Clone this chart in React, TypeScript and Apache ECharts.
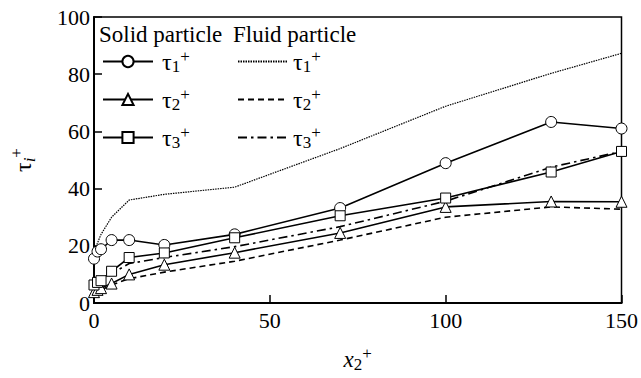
import React, { useEffect, useRef } from "react";
import * as echarts from "echarts";

const xValues = [0, 1, 2, 5, 10, 20, 40, 70, 100, 130, 150];
const solidTau1 = [15.5, 18, 18.8, 22, 22, 20.3, 24, 33.2, 48.9, 63.3, 61];
const solidTau2 = [3.8, 4.6, 5.2, 6.8, 10, 13.4, 17.6, 24.5, 33.6, 35.5, 35.4];
const solidTau3 = [6.3, 7.2, 7.8, 11.1, 15.9, 17.5, 22.8, 30.5, 36.7, 45.8, 53];
const fluidTau1 = [18, 21, 24, 30, 36, 38, 40.5, 54, 68.8, 80.3, 87.3];
const fluidTau2 = [3, 3.8, 4.6, 6.3, 8.5, 10.8, 14.6, 22, 30, 33.6, 32.8];
const fluidTau3 = [5, 6.2, 7.4, 10.3, 13.8, 15.9, 19.7, 26.7, 35.6, 47.5, 53];

const xTicks = [0, 50, 100, 150];
const yTicks = [0, 20, 40, 60, 80, 100];

const FONT = "Liberation Serif";

const pair = (ys: number[]) => xValues.map((x, i) => [x, ys[i]]);

const legendLabel: Record<string, string> = {
  s1: "{t|τ}{b|1}{p|+}",
  s2: "{t|τ}{b|2}{p|+}",
  s3: "{t|τ}{b|3}{p|+}",
  f1: "{t|τ}{b|1}{p|+}",
  f2: "{t|τ}{b|2}{p|+}",
  f3: "{t|τ}{b|3}{p|+}",
};

const richTau = {
  t: { fontSize: 24, fontFamily: FONT, color: "#000", lineHeight: 27, verticalAlign: "middle" },
  b: { fontSize: 17, fontFamily: FONT, color: "#000", lineHeight: 15, verticalAlign: "bottom" },
  p: { fontSize: 17, fontFamily: FONT, color: "#000", lineHeight: 15, verticalAlign: "top" },
};

export default function App() {
  const ref = useRef<HTMLDivElement>(null);
  useEffect(() => {
    if (!ref.current) return;
    const chart = echarts.init(ref.current, undefined, { renderer: "svg" });
    const solidCommon = {
      type: "line",
      symbolSize: 11,
      itemStyle: { color: "#fff", borderColor: "#000", borderWidth: 1 },
      lineStyle: { color: "#000", width: 1.6 },
      z: 3,
    };
    const fluidCommon = {
      type: "line",
      symbol: "none",
      itemStyle: { color: "rgba(0,0,0,0)" },
      z: 2,
    };
    const legendBase = {
      orient: "vertical",
      top: 48,
      itemWidth: 50,
      itemHeight: 14,
      itemGap: 11,
      padding: 0,
      formatter: (n: string) => legendLabel[n],
      selectedMode: false,
    };
    chart.setOption({
      animation: false,
      backgroundColor: "#fff",
      textStyle: { fontFamily: FONT },
      grid: {
        left: 84,
        right: 19,
        top: 17,
        bottom: 66,
        show: true,
        borderColor: "#000",
        borderWidth: 1.5,
      },
      xAxis: {
        type: "value",
        min: 0,
        max: 150,
        interval: 50,
        axisLine: { lineStyle: { color: "#000", width: 2 } },
        axisTick: { inside: true, length: 8, lineStyle: { color: "#000", width: 1.5 } },
        axisLabel: {
          color: "#000",
          fontSize: 22,
          fontFamily: FONT,
          margin: 6,
          formatter: (v: number) => (xTicks.includes(v) ? String(v) : ""),
        },
        splitLine: { show: false },
        name: "{x|x}{b|2}{p|+}",
        nameLocation: "middle",
        nameGap: 42,
        nameTextStyle: {
          rich: {
            x: { fontSize: 23, fontFamily: FONT, fontStyle: "italic", color: "#000", lineHeight: 28 },
            b: { ...richTau.b, fontSize: 17 },
            p: { ...richTau.p, fontSize: 17 },
          },
        },
      },
      yAxis: {
        type: "value",
        min: 0,
        max: 100,
        interval: 20,
        axisLine: { lineStyle: { color: "#000", width: 2 } },
        axisTick: { inside: true, length: 8, lineStyle: { color: "#000", width: 1.5 } },
        axisLabel: {
          color: "#000",
          fontSize: 22,
          fontFamily: FONT,
          margin: 4,
          formatter: (v: number) => (yTicks.includes(v) ? String(v) : ""),
        },
        splitLine: { show: false },
        name: "{t|τ}{b|i}{p|+}",
        nameLocation: "middle",
        nameGap: 56,
        nameTextStyle: {
          rich: {
            t: { ...richTau.t, lineHeight: 30 },
            b: { ...richTau.b, fontSize: 17, fontStyle: "italic" },
            p: { ...richTau.p, fontSize: 17 },
          },
        },
      },
      legend: [
        {
          ...legendBase,
          data: ["s1", "s2", "s3"],
          left: 102,
          textStyle: { rich: richTau, padding: [0, 0, 0, 4] },
        },
        {
          ...legendBase,
          data: ["f1", "f2", "f3"],
          left: 237,
          textStyle: { rich: richTau, padding: [0, 0, 0, 0] },
        },
      ],
      graphic: [
        {
          type: "text",
          left: 99,
          top: 23,
          style: { text: "Solid particle", fontSize: 23, fontFamily: FONT, fill: "#000" },
        },
        {
          type: "text",
          left: 233,
          top: 23,
          style: { text: "Fluid particle", fontSize: 23, fontFamily: FONT, fill: "#000" },
        },
      ],
      series: [
        { ...solidCommon, name: "s1", symbol: "circle", data: pair(solidTau1) },
        { ...solidCommon, name: "s2", symbol: "triangle", data: pair(solidTau2) },
        { ...solidCommon, name: "s3", symbol: "rect", symbolSize: 10, data: pair(solidTau3) },
        {
          ...fluidCommon,
          name: "f1",
          data: pair(fluidTau1),
          lineStyle: { color: "#000", width: 1.2, type: [1.5, 1] },
        },
        {
          ...fluidCommon,
          name: "f2",
          data: pair(fluidTau2),
          lineStyle: { color: "#000", width: 1.6, type: [6, 4] },
        },
        {
          ...fluidCommon,
          name: "f3",
          data: pair(fluidTau3),
          lineStyle: { color: "#000", width: 1.6, type: [9, 4, 2.5, 4] },
        },
      ],
    });
    return () => chart.dispose();
  }, []);
  return (
    <div
      ref={ref}
      style={{ position: "fixed", left: 0, top: 0, width: 641, height: 378, background: "#fff" }}
    />
  );
}
